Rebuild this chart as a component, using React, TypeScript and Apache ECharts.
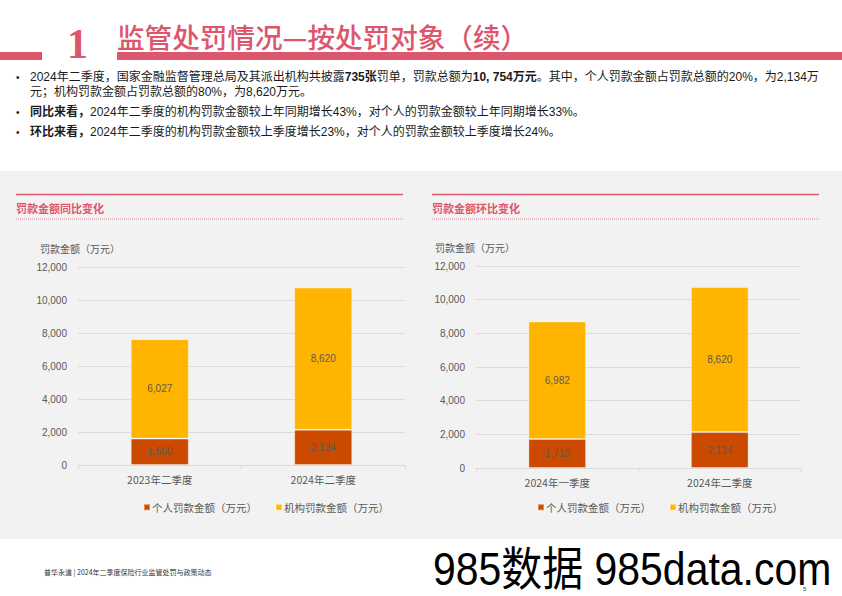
import React, { useEffect, useRef } from "react";
import * as echarts from "echarts";

const seriesNames = ["个人罚款金额（万元）", "机构罚款金额（万元）"];
const yoyCategories = ["2023年二季度", "2024年二季度"];
const yoyPersonal = [1600, 2134];
const yoyInstitution = [6027, 8620];
const qoqCategories = ["2024年一季度", "2024年二季度"];
const qoqPersonal = [1719, 2134];
const qoqInstitution = [6982, 8620];
const yMax = 12000;
const yInterval = 2000;
const panelTitles = ["罚款金额同比变化", "罚款金额环比变化"];
const axisName = "罚款金额（万元）";

const PINK = "#DC566E";
const GRAY_TEXT = "#595959";
const RED = "#CC4A00";
const YELLOW = "#FFB400";
const FONT = '"Liberation Sans", "Noto Sans CJK SC", sans-serif';
const CJK = '"Noto Sans CJK SC", "Liberation Sans", sans-serif';

const fmt = (v: number) => v.toLocaleString("en-US");

function makeAxes(gridIndex: number, cats: string[]) {
  const x = {
    gridIndex,
    type: "category",
    data: cats,
    axisLine: { lineStyle: { color: "#d9d9d9" } },
    axisTick: { show: true, length: 4, lineStyle: { color: "#d9d9d9" } },
    axisLabel: { color: GRAY_TEXT, fontSize: 10.5, margin: 9, fontFamily: CJK },
  };
  const y = {
    gridIndex,
    type: "value",
    min: 0,
    max: yMax,
    interval: yInterval,
    axisLine: { show: false },
    axisTick: { show: false },
    splitLine: { lineStyle: { color: "#dcdcdc", width: 1 } },
    axisLabel: { color: GRAY_TEXT, fontSize: 10, margin: 11, fontFamily: FONT, formatter: (v: number) => fmt(v) },
  };
  return { x, y };
}

function barSeries(name: string, idx: number, data: number[], color: string, stack: string) {
  return {
    name,
    type: "bar",
    xAxisIndex: idx,
    yAxisIndex: idx,
    stack,
    data,
    barWidth: "35.5%",
    itemStyle: { color, borderColor: "rgba(255,255,255,0.35)", borderWidth: 1 },
    label: {
      show: true,
      position: "inside",
      color: GRAY_TEXT,
      fontSize: 10,
      fontFamily: FONT,
      formatter: (p: any) => fmt(p.value),
    },
  };
}

function panelGraphics(x1: number, x2: number, title: string, axisX: number, axisY: number) {
  return [
    { type: "line", shape: { x1, y1: 194.5, x2, y2: 194.5 }, style: { stroke: "#E2576F", lineWidth: 1.3 } },
    {
      type: "text",
      x: x1,
      y: 208,
      style: { text: title, fill: "#E0566F", font: `bold 11px ${CJK}`, verticalAlign: "middle" },
    },
    {
      type: "line",
      shape: { x1, y1: 219, x2, y2: 219 },
      style: { stroke: "#E98698", lineWidth: 1.2, lineDash: [1, 1] },
    },
    {
      type: "text",
      x: axisX,
      y: axisY,
      style: { text: axisName, fill: GRAY_TEXT, font: `10px ${CJK}`, verticalAlign: "middle" },
    },
  ];
}

function legend(left: number) {
  return {
    left,
    top: 497,
    icon: "rect",
    itemWidth: 6,
    itemHeight: 6,
    itemGap: 18,
    textStyle: { color: GRAY_TEXT, fontSize: 10.5, fontFamily: CJK, padding: [0, 0, 0, -3] },
    data: seriesNames,
  };
}

function Chart() {
  const ref = useRef<HTMLDivElement>(null);
  useEffect(() => {
    if (!ref.current) return;
    const chart = echarts.init(ref.current, undefined, { renderer: "svg" });
    const a0 = makeAxes(0, yoyCategories);
    const a1 = makeAxes(1, qoqCategories);
    chart.setOption({
      animation: false,
      backgroundColor: "transparent",
      grid: [
        { left: 78, top: 267, width: 327, height: 198 },
        { left: 476, top: 266, width: 325, height: 202 },
      ],
      xAxis: [a0.x, a1.x],
      yAxis: [a0.y, a1.y],
      legend: [legend(138), legend(532)],
      series: [
        barSeries(seriesNames[0], 0, yoyPersonal, RED, "a"),
        barSeries(seriesNames[1], 0, yoyInstitution, YELLOW, "a"),
        barSeries(seriesNames[0], 1, qoqPersonal, RED, "b"),
        barSeries(seriesNames[1], 1, qoqInstitution, YELLOW, "b"),
      ],
      graphic: [
        ...panelGraphics(16, 403, panelTitles[0], 40, 248),
        ...panelGraphics(432, 819, panelTitles[1], 435, 247),
      ],
    });
    return () => chart.dispose();
  }, []);
  return <div ref={ref} style={{ position: "absolute", left: 0, top: 0, width: 842, height: 596 }} />;
}

const abs = (left: number, top: number, extra: React.CSSProperties = {}): React.CSSProperties => ({
  position: "absolute",
  left,
  top,
  whiteSpace: "nowrap",
  ...extra,
});

const bulletStyle: React.CSSProperties = { fontSize: 12, lineHeight: "15px", color: "#1a1a1a", fontFamily: FONT };

export default function App() {
  useEffect(() => {
    document.body.style.margin = "0";
  }, []);
  return (
    <div style={{ position: "fixed", left: 0, top: 0, width: 842, height: 596, background: "#fff", overflow: "hidden", fontFamily: FONT }}>
      {/* header */}
      <div style={abs(0, 52, { width: 42, height: 8, background: PINK })} />
      <div style={abs(117, 52, { width: 725, height: 8, background: PINK })} />
      <div style={abs(67, 23, { fontFamily: '"Liberation Serif", "DejaVu Serif", serif', fontWeight: "bold", fontSize: 42, lineHeight: 1, color: PINK })}>1</div>
      <div style={abs(117, 21, { fontFamily: CJK, fontSize: 27.6, lineHeight: "30px", color: PINK, fontWeight: 500 })}>
        监管处罚情况—按处罚对象（续）
      </div>

      {/* bullets */}
      {[77, 112, 132].map((y) => (
        <div key={y} style={abs(16, y - 7.5, { ...bulletStyle, fontSize: 10 })}>•</div>
      ))}
      <div style={abs(30, 69.5, bulletStyle)}>
        2024年二季度，国家金融监督管理总局及其派出机构共披露<b>735张</b>罚单，罚款总额为<b>10, 754万元</b>。其中，个人罚款金额占罚款总额的20%，为2,134万
      </div>
      <div style={abs(30, 84.5, bulletStyle)}>元；机构罚款金额占罚款总额的80%，为8,620万元。</div>
      <div style={abs(30, 104.5, bulletStyle)}>
        <b>同比来看，</b>2024年二季度的机构罚款金额较上年同期增长43%，对个人的罚款金额较上年同期增长33%。
      </div>
      <div style={abs(30, 124.5, bulletStyle)}>
        <b>环比来看，</b>2024年二季度的机构罚款金额较上季度增长23%，对个人的罚款金额较上季度增长24%。
      </div>

      {/* gray panel */}
      <div style={abs(0, 171, { width: 842, height: 368, background: "#F2F2F2" })} />

      <Chart />

      {/* footer */}
      <div style={abs(44, 567, { fontSize: 7, lineHeight: "10px", color: "#333", fontFamily: CJK })}>
        普华永道 | 2024年二季度保险行业监管处罚与政策动态
      </div>
      <div style={abs(433, 552, { fontSize: 46, lineHeight: "34px", color: "#000", transform: "scaleX(0.89)", transformOrigin: "left top" })}>
        985数据 985data.com
      </div>
      <div style={abs(803, 586, { fontSize: 6, lineHeight: "6px", color: "#333" })}>5</div>
    </div>
  );
}
